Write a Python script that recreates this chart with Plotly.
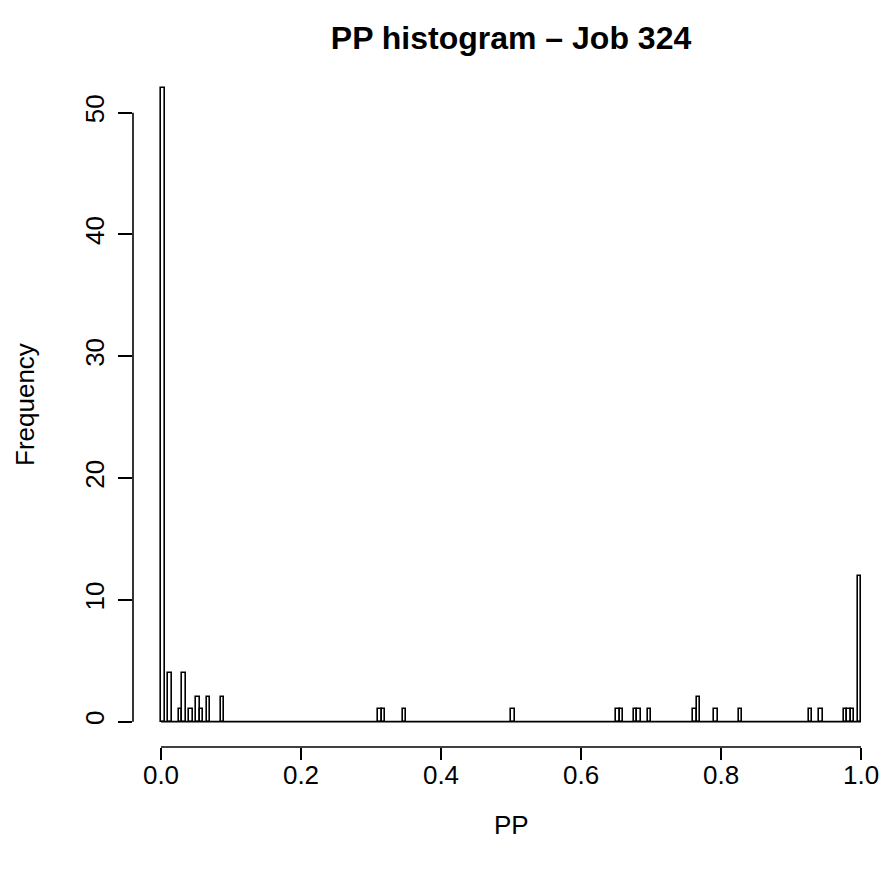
import plotly.graph_objects as go

# Histogram of PP values (bin width 0.005, breaks 0..1); only non-empty bins listed
bin_width = 0.005
bin_starts = [0.000, 0.010, 0.025, 0.030, 0.040, 0.050, 0.055, 0.065, 0.085,
              0.310, 0.315, 0.345, 0.500,
              0.650, 0.655, 0.675, 0.680, 0.695, 0.760, 0.765, 0.790, 0.825,
              0.925, 0.940, 0.975, 0.980, 0.985, 0.995]
counts = [52, 4, 1, 4, 1, 2, 1, 2, 2,
          1, 1, 1, 1,
          1, 1, 1, 1, 1, 1, 2, 1, 1,
          1, 1, 1, 1, 1, 12]

x_ticks = [0.0, 0.2, 0.4, 0.6, 0.8, 1.0]
x_tick_labels = ["0.0", "0.2", "0.4", "0.6", "0.8", "1.0"]
y_ticks = [0, 10, 20, 30, 40, 50]
y_tick_labels = ["0", "10", "20", "30", "40", "50"]

FONT = "Liberation Sans, Arial, Helvetica, sans-serif"
LW = 1.6
W, H = 880, 871
ML, MT, MB = 133, 63, 124
plot_h = H - MT - MB
plot_w = W - ML

fig = go.Figure()
fig.add_trace(go.Bar(
    x=bin_starts, y=counts, width=bin_width, offset=0,
    marker=dict(color="white", line=dict(color="black", width=LW)),
    showlegend=False, hoverinfo="x+y",
))

ymax = max(counts)
fig.update_layout(
    width=W, height=H,
    margin=dict(l=ML, r=0, t=MT, b=MB),
    paper_bgcolor="white", plot_bgcolor="white",
    font=dict(family=FONT, size=26, color="black"),
    bargap=0,
    title=dict(text="<b>PP histogram – Job 324</b>", x=(511 - ML) / plot_w, xref="paper",
               y=1 - 38 / H, yref="container", xanchor="center", yanchor="middle",
               font=dict(size=32, family=FONT, color="black")),
    xaxis=dict(range=[-0.04, 1.0271], tickvals=x_ticks, ticktext=x_tick_labels,
               ticks="outside", ticklen=12, tickwidth=LW, tickcolor="black",
               showline=False, showgrid=False, zeroline=False,
               ticklabelstandoff=-7, tickfont=dict(size=26)),
    yaxis=dict(range=[-0.04 * ymax, 1.04 * ymax], tickvals=y_ticks, ticktext=y_tick_labels,
               ticks="outside", ticklen=14, tickwidth=LW, tickcolor="black",
               tickangle=-90, ticklabelstandoff=4,
               showline=False, showgrid=False, zeroline=False,
               tickfont=dict(size=26)),
    shapes=[
        # R-style axis lines spanning first to last tick
        dict(type="line", xref="x", yref="paper", x0=x_ticks[0], x1=x_ticks[-1], y0=0, y1=0,
             line=dict(color="black", width=LW)),
        dict(type="line", xref="paper", yref="y", x0=0, x1=0, y0=y_ticks[0], y1=y_ticks[-1],
             line=dict(color="black", width=LW)),
        # baseline of empty bins
        dict(type="line", xref="x", yref="y", x0=0, x1=1, y0=0, y1=0,
             line=dict(color="black", width=LW)),
    ],
    annotations=[
        dict(text="PP", xref="paper", yref="paper", x=(511 - ML) / plot_w,
             y=-(825 - (H - MB)) / plot_h,
             showarrow=False, xanchor="center", yanchor="middle", font=dict(size=26)),
        dict(text="Frequency", xref="paper", yref="paper", x=-(ML - 25) / plot_w, y=0.5,
             showarrow=False, xanchor="center", yanchor="middle", textangle=-90,
             font=dict(size=26)),
    ],
)

fig.write_html("out.html", config={"displayModeBar": False},
               post_script="document.body.style.margin='0';")
